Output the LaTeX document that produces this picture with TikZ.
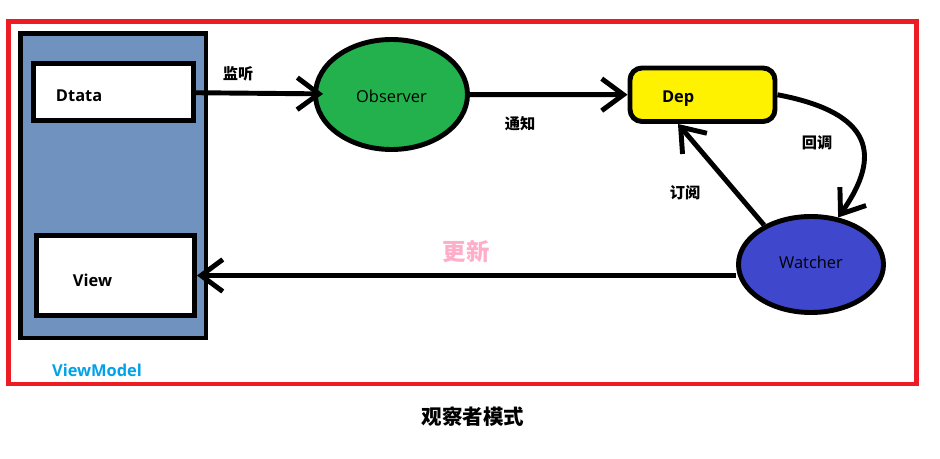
\documentclass[tikz,border=0pt]{standalone}
\usepackage{fontspec}
\setmainfont{Open Sans}
\newfontfamily\cjk{Noto Sans CJK SC}
\usetikzlibrary{shapes.geometric,arrows.meta}
\definecolor{frame red}{HTML}{ED1C24}
\definecolor{vm blue}{HTML}{6F92BE}
\definecolor{obs green}{HTML}{22B14C}
\definecolor{dep yellow}{HTML}{FFF200}
\definecolor{watch blue}{HTML}{3F48CC}
\definecolor{upd pink}{HTML}{FFAEC9}
\definecolor{vm cyan}{HTML}{00A2E8}
\tikzset{
  box/.style={draw,fill=white,align=left,inner ysep=0pt,text depth=0pt,font=\bfseries\fontsize{14}{16}\selectfont},
  blob/.style={ellipse,draw,inner sep=0pt,text depth=0pt,font=\fontsize{14}{16}\selectfont},
  say/.style={font=\cjk\bfseries\fontsize{13}{15}\selectfont}
}
\begin{document}
\begin{tikzpicture}[x=0.03cm,y=-0.03cm,line width=4.2pt,
    >={Straight Barb[length=6.5mm,width=9.6mm]}]

      \useasboundingbox (0,0) rectangle (940,459);

      \node[draw=frame red,minimum width=27.24cm,minimum height=10.875cm] (frame) at (462.5,202.75) {};
      \node[draw,fill=vm blue,minimum width=5.565cm,minimum height=9.135cm] (vm) at (113.25,185.75) {};

      \node[box,text height=16.8pt,minimum height=1.71cm,inner xsep=0.675cm,text width=3.45cm] (data) at (113.5,92) {Dtata};
      \node[box,text height=18.5pt,minimum height=2.4cm,inner xsep=1.095cm,text width=2.55cm] (view) at (115.5,275.5) {View};
      \node[box,text height=14pt,fill=dep yellow,rounded corners=0.36cm,minimum height=1.605cm,inner xsep=0.96cm,text width=2.43cm] (dep) at (702.5,94.75) {Dep};

      \node[blob,text height=14pt,fill=obs green,minimum width=4.56cm,minimum height=3.3cm] (obs) at (391.5,94.5) {Observer};
      \node[blob,text height=6pt,fill=watch blue,minimum width=4.35cm,minimum height=2.88cm] (watch) at (811,264.5) {Watcher};

      \begin{scope}[every edge/.style={draw,->}]
        \path (data) edge[shorten >=-3mm] (obs);
        \path (obs) edge (dep);
        \path (watch.140) edge (dep.-130);
        \path (watch.west |- view.east) edge (view.east);
      \end{scope}
      \draw[->] (dep.east) .. controls (885,115) and (875,165) .. (watch.60);

      \begin{scope}[every node/.style={say}]
        \node (listen) at (238,74) {监听};
        \node (notify) at (520,124) {通知};
        \node (callback) at (817,143) {回调};
        \node (subscribe) at (685,193) {订阅};
      \end{scope}

      \node[font=\cjk\bfseries\fontsize{20}{24}\selectfont,text=upd pink] (update) at (466,252) {更新};
      \node[font=\bfseries\fontsize{14}{16}\selectfont,text=vm cyan] (vmname) at (97,370) {ViewModel};
      \node[font=\cjk\bfseries\fontsize{17.5}{20}\selectfont] (title) at (473,417) {观察者模式};

    \end{tikzpicture}
\end{document}
